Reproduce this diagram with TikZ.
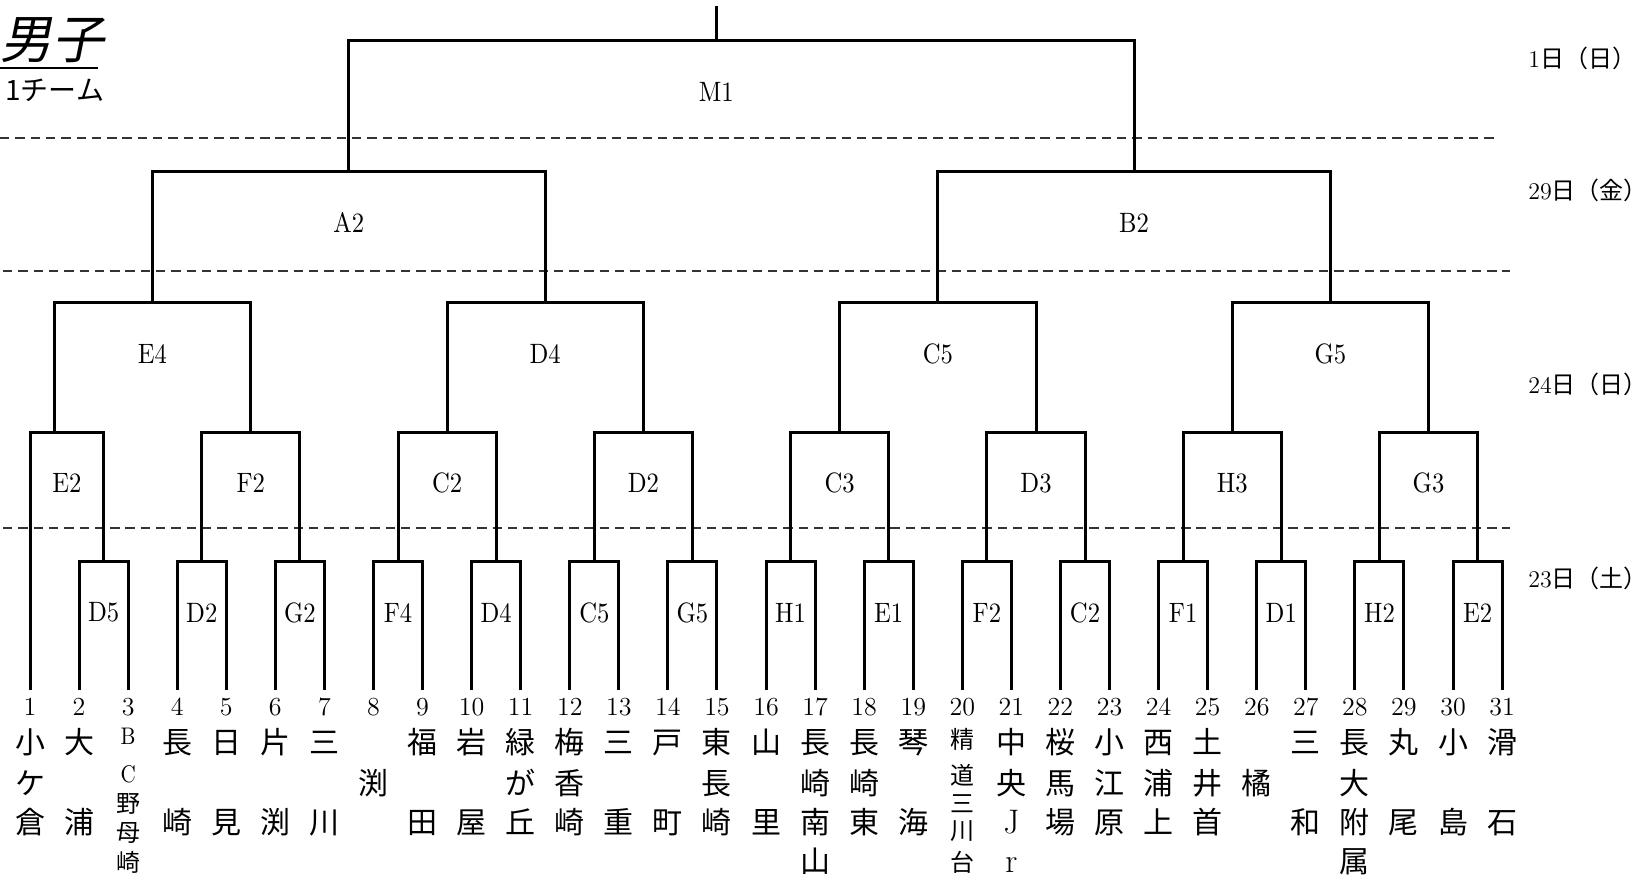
\documentclass[tikz,border=0pt]{standalone}
\usepackage{fontspec}
\usepackage{tikz}
\usetikzlibrary{positioning}
\newfontfamily\jp{Noto Sans CJK JP}
\newfontfamily\jpslant{Noto Sans CJK JP}[FakeSlant=0.2]
\newfontfamily\labfont{lmroman10-regular}[Extension=.otf,FakeStretch=0.88]
\tikzset{
    bracket/.style = {line width=1.5pt,draw=black},
    daysep/.style = {line width=0.9pt,draw=black!80,dash pattern=on 4.7pt off 2.95pt},
    matchlab/.style = {inner sep=0pt,font=\labfont\fontsize{14pt}{16pt}\selectfont},
    teamnum/.style = {inner sep=0pt,font=\fontsize{13pt}{15pt}\selectfont},
    teamch/.style = {inner sep=0pt,text height=13.2pt,text depth=1.8pt,font=\jp\fontsize{15pt}{18pt}\selectfont},
    teamchs/.style = {inner sep=0pt,text height=10.6pt,text depth=1.4pt,font=\jp\fontsize{12pt}{14pt}\selectfont},
    datelab/.style = {inner sep=0pt,anchor=west,text height=10.6pt,text depth=1.4pt,font=\fontsize{12pt}{14pt}\selectfont},
    titlelab/.style = {inner sep=0pt,text height=22.9pt,text depth=3.1pt,font=\jpslant\fontsize{26pt}{30pt}\selectfont}
}
\newcommand{\JP}[1]{{\jp #1}}
\newcommand{\LM}[1]{{\rmfamily\fontsize{17pt}{18pt}\selectfont #1}}
\newcommand{\SM}[1]{{\labfont #1}}
\newcommand{\rpar}{\makebox[0.4em][l]{）}}

\begin{document}
\begin{tikzpicture}[x=0.5pt,y=-0.5pt]
\useasboundingbox (0,0) rectangle (1648,877);
% title
\node[titlelab] (ttl) at (52,39) {男子};
\draw[line width=1.3pt] (0,68) -- (98,68);
\node[anchor=west,inner sep=0pt,font=\jp\fontsize{14pt}{16pt}\selectfont] (cnt) at (5,90) {1チーム};
% days
\draw[daysep] (0,137.7) -- (1498.7,137.7);
\draw[daysep] (3,270.7) -- (1509.7,270.7);
\draw[daysep] (3,527.7) -- (1509.7,527.7);
\node[datelab] (day1) at (1528,58.3) {1\JP{日（日\rpar}};
\node[datelab] (day29) at (1528,190) {29\JP{日（金\rpar}};
\node[datelab] (day24) at (1528,384) {24\JP{日（日\rpar}};
\node[datelab] (day23) at (1528,578.7) {23\JP{日（土\rpar}};
%
\foreach \i in {1,...,31}{
  \coordinate (t\i) at ({30+49.07*(\i-1)},690);
  \node[teamnum] (n\i) at ({30+49.07*(\i-1)},707) {\i};
}
\foreach \i/\nm in {1/{1/小,2/ケ,3/倉}, 2/{1/大,3/浦}, 4/{1/長,3/崎}, 5/{1/日,3/見},
    6/{1/片,3/渕}, 7/{1/三,3/川}, 8/{2/渕}, 9/{1/福,3/田}, 10/{1/岩,3/屋},
    11/{1/緑,2/が,3/丘}, 12/{1/梅,2/香,3/崎}, 13/{1/三,3/重}, 14/{1/戸,3/町},
    15/{1/東,2/長,3/崎}, 16/{1/山,3/里}, 17/{1/長,2/崎,3/南,4/山}, 18/{1/長,2/崎,3/東},
    19/{1/琴,3/海}, 21/{1/中,2/央,3/{\LM{J}},4/{\LM{r}}}, 22/{1/桜,2/馬,3/場},
    23/{1/小,2/江,3/原}, 24/{1/西,2/浦,3/上}, 25/{1/土,2/井,3/首}, 26/{2/橘},
    27/{1/三,3/和}, 28/{1/長,2/大,3/附,4/属}, 29/{1/丸,3/尾}, 30/{1/小,3/島}, 31/{1/滑,3/石}}{
  \foreach \r/\c in \nm {
    \pgfmathsetmacro\ry{{742,783.5,822.5,861}[\r-1]}
    \node[teamch] (c\i-\r) at ({30+49.07*(\i-1)},\ry) {\c};
  }
}
\foreach \i/\r/\y/\c in {3/1/735/{\SM{B}}, 3/2/773/{\SM{C}}, 3/3/803/野, 3/4/832/母, 3/5/862/崎,
    20/1/739/精, 20/2/775/道, 20/3/803/三, 20/4/830/川, 20/5/862/台}
  \node[teamchs] (c\i-\r) at ({30+49.07*(\i-1)},\y) {\c};
% first round
\foreach \k/\lab in {1/D5,2/D2,3/G2,4/F4,5/D4,6/C5,7/G5,8/H1,9/E1,10/F2,11/C2,12/F1,13/D1,14/H2,15/E2}{
  \pgfmathtruncatemacro\pa{2*\k}
  \pgfmathtruncatemacro\pb{2*\k+1}
  \coordinate (a\k) at ({30+49.07*(2*\k-0.5)},561.5);
  \draw[bracket] (t\pa) |- (a\k) -| (t\pb);
  \node[matchlab] (la\k) at ({30+49.07*(2*\k-0.5)},612.5) {\lab};
}
% later rounds
\foreach \m/\p/\q/\x/\y/\lx/\lab in {
    b1/t1/a1/54/432/66.8/E2, b2/a2/a3/250.8/432/250.8/F2, b3/a4/a5/447.1/432/447.1/C2,
    b4/a6/a7/643.4/432/643.4/D2, b5/a8/a9/839.7/432/839.7/C3, b6/a10/a11/1036/432/1036/D3,
    b7/a12/a13/1232.2/432/1232.2/H3, b8/a14/a15/1428.5/432/1428.5/G3,
    c1/b1/b2/152.4/302.7/152.4/E4, c2/b3/b4/545.2/302.7/545.2/D4,
    c3/b5/b6/937.8/302.7/937.8/C5, c4/b7/b8/1330.4/302.7/1330.4/G5,
    d1/c1/c2/348.8/172/348.8/A2, d2/c3/c4/1134.1/172/1134.1/B2,
    fin/d1/d2/716.3/40.7/716.3/M1}{
  \coordinate (\m) at (\x,\y);
  \draw[bracket] (\p) |- (\m) -| (\q);
  \node[matchlab] (l\m) at (\lx,{\y+50.8}) {\lab};
}
\coordinate (top) at (716.3,6);
\draw[bracket] (fin) -- (top);
\end{tikzpicture}
\end{document}
